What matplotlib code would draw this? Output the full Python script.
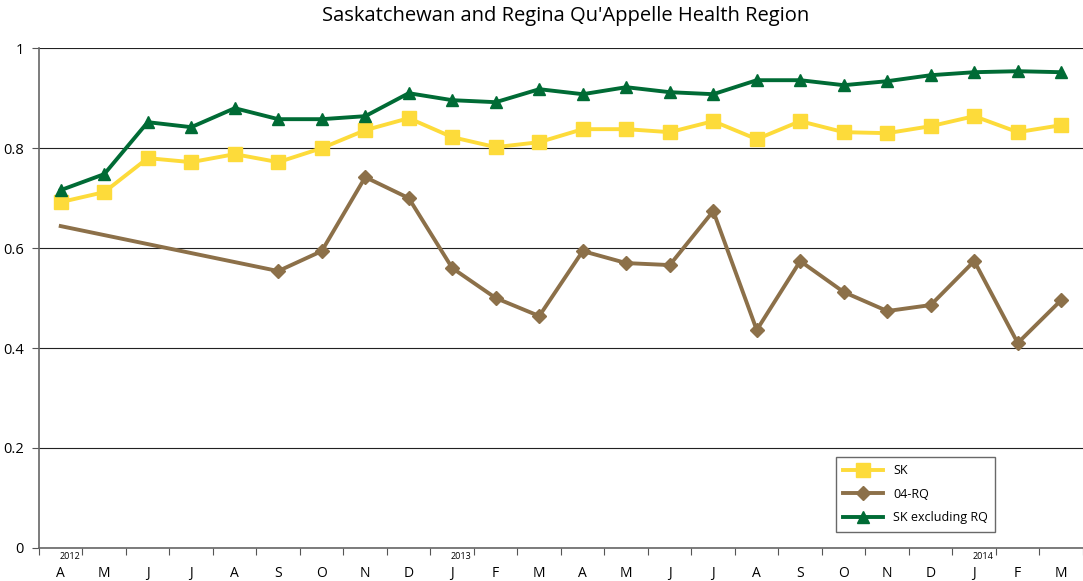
import numpy as np
import matplotlib.pyplot as plt
from matplotlib.transforms import blended_transform_factory

months = ['A', 'M', 'J', 'J', 'A', 'S', 'O', 'N', 'D', 'J', 'F', 'M',
          'A', 'M', 'J', 'J', 'A', 'S', 'O', 'N', 'D', 'J', 'F', 'M']
years = {0: '2012', 9: '2013', 21: '2014'}

sk = [0.692, 0.712, 0.780, 0.772, 0.788, 0.772, 0.800, 0.836, 0.860, 0.822, 0.802, 0.812,
      0.838, 0.838, 0.832, 0.854, 0.818, 0.854, 0.832, 0.830, 0.844, 0.864, 0.832, 0.846]
rq = [0.644, np.nan, np.nan, np.nan, np.nan, 0.554, 0.594, 0.742, 0.700, 0.560, 0.500, 0.464,
      0.594, 0.570, 0.566, 0.674, 0.436, 0.574, 0.512, 0.474, 0.486, 0.574, 0.410, 0.496]
sk_ex = [0.716, 0.748, 0.852, 0.842, 0.880, 0.858, 0.858, 0.864, 0.910, 0.896, 0.892, 0.918,
         0.908, 0.922, 0.912, 0.908, 0.936, 0.936, 0.926, 0.934, 0.946, 0.952, 0.954, 0.952]

plt.rcParams['font.family'] = ['Open Sans', 'DejaVu Sans']

fig = plt.figure(figsize=(10.83, 5.81), dpi=100)
ax = fig.add_axes([0.036, 0.057, 0.964, 0.86])

x = np.arange(len(months))
ax.plot(x, sk, color='#FDDB3A', lw=2.8, marker='s', ms=10, label='SK', zorder=3)

# 04-RQ has no data for May-Aug 2012; the line just joins across the gap
rq = np.array(rq)
ok = ~np.isnan(rq)
ax.plot(x[ok], rq[ok], color='#8C7049', lw=2.8, marker='D', ms=7,
        markevery=list(range(1, ok.sum())), label='04-RQ', zorder=3)
ax.plot(x, sk_ex, color='#006B35', lw=2.8, marker='^', ms=9, label='SK excluding RQ', zorder=3)

ax.set_xlim(-0.5, 23.31)
ax.set_ylim(0, 1)
ax.set_yticks([0, 0.2, 0.4, 0.6, 0.8, 1])
ax.set_yticklabels(['0', '0.2', '0.4', '0.6', '0.8', '1'], fontsize=10.5)
ax.yaxis.grid(True, color='#222222', lw=0.8)
ax.set_axisbelow(True)

# month labels centred, tick marks between months
ax.set_xticks(np.arange(-0.5, 24, 1))
ax.set_xticklabels([])
ax.set_xticks(x, minor=True)
ax.set_xticklabels(months, minor=True, fontsize=10)
ax.tick_params(axis='x', which='minor', length=0, pad=13)
ax.tick_params(axis='x', which='major', length=5, color='#555555', direction='out')
ax.tick_params(axis='y', length=5, color='#555555', pad=6)

trans = blended_transform_factory(ax.transData, ax.transAxes)
for i, yr in years.items():
    ax.text(i + 0.2, -0.009, yr, transform=trans, fontsize=6.5, ha='center', va='top')

for s in ['top', 'right']:
    ax.spines[s].set_visible(False)
for s in ['left', 'bottom']:
    ax.spines[s].set_color('#666666')
    ax.spines[s].set_linewidth(1.2)

fig.suptitle("Saskatchewan and Regina Qu'Appelle Health Region", fontsize=14.5, x=0.522, y=0.99)

leg = ax.legend(loc='lower left', bbox_to_anchor=(0.763, 0.032), fontsize=9, frameon=True,
                fancybox=False, edgecolor='#444444', handlelength=3.2, labelspacing=0.85,
                borderpad=0.6, borderaxespad=0)
leg.get_frame().set_linewidth(1.0)

plt.savefig('out.png', dpi=100)
